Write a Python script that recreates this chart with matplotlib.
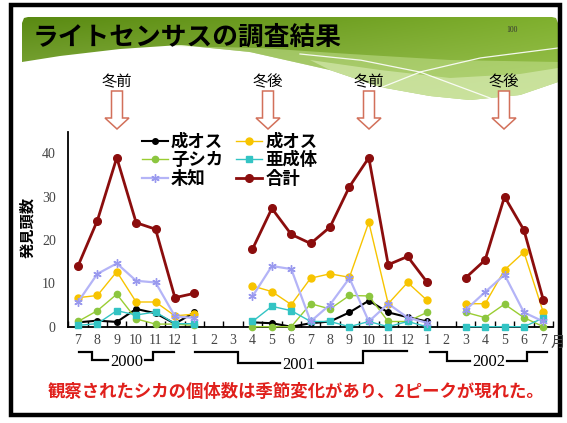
import numpy as np
import matplotlib
matplotlib.use("Agg")
import matplotlib.pyplot as plt
from matplotlib.patches import Polygon

plt.rcParams['font.family'] = ['Noto Sans CJK JP', 'DejaVu Sans']

# ---- data: monthly sightings, Jul 2000 .. Jul 2002 (nan = no survey) ----
nan = np.nan
month_labels = ['7', '8', '9', '10', '11', '12',
                '1', '2', '3', '4', '5', '6', '7', '8', '9', '10', '11', '12',
                '1', '2', '3', '4', '5', '6', '7']
adult_male = [1.0, 1.4, 1.1, 4.1, 3.1, 0.7, 3.3, nan, nan, 1.0, 0.8, 0.0, 0.8, 1.2,
              3.3, 6.0, 3.3, 2.2, 1.2, nan, nan, nan, nan, nan, nan]
adult_male2 = [6.7, 7.2, 12.7, 5.7, 5.7, 2.5, 2.9, nan, nan, 9.4, 8.1, 5.1, 11.2, 12.2,
               11.4, 24.1, 5.3, 10.2, 6.1, nan, 5.3, 5.3, 13.1, 17.2, 3.3]
fawn = [1.2, 3.7, 7.5, 1.8, 0.6, 0.6, 0.3, nan, nan, 0.0, 0.0, 0.0, 5.3, 4.1,
        7.2, 7.1, 1.2, 1.2, 3.3, nan, 3.3, 2.1, 5.2, 2.1, 0.0]
subadult = [0.3, 0.7, 3.7, 2.7, 3.4, 0.7, 0.7, nan, nan, 1.2, 4.7, 3.7, 1.2, 1.2,
            0.0, 1.2, 0.0, 1.2, 0.0, nan, 0.0, 0.0, 0.0, 0.0, 2.0]
unknown = [5.7, 12.2, 14.6, 10.6, 10.2, 2.4, 2.0, nan, nan, 7.0, 14.0, 13.3, 1.2, 5.1,
           11.2, 1.2, 5.3, 2.1, 0.9, nan, 3.9, 8.0, 12.0, 3.3, 1.2]
total = [14.0, 24.5, 39.0, 24.0, 22.5, 6.7, 7.7, nan, nan, 17.9, 27.3, 21.3, 19.2, 23.0,
         32.3, 39.0, 14.3, 16.2, 10.3, nan, 11.3, 15.4, 30.0, 22.3, 6.2]
series_names = ['成オス', '成オス', '子シカ', '亜成体', '未知', '合計']
y_ticks = [0, 10, 20, 30, 40]
season_labels = ['冬前', '冬後', '冬前', '冬後']
year_labels = ['2000', '2001', '2002']

W, H = 567, 423
fig = plt.figure(figsize=(W / 100, H / 100), dpi=100)
fig.patch.set_facecolor('white')

# full-figure layer in pixel coordinates for the slide decoration
bg = fig.add_axes([0, 0, 1, 1])
bg.set_xlim(0, W)
bg.set_ylim(H, 0)
bg.axis('off')

# slide frame
bg.add_patch(plt.Rectangle((11, 5), 549, 410, fill=False, ec='black', lw=3.2, zorder=5))


def smooth(pts, n=200):
    xs, ys = zip(*pts)
    xx = np.linspace(xs[0], xs[-1], n)
    return xx, np.interp(xx, xs, ys)


# green title banner: gradient image clipped to the wavy banner outline
gx = np.linspace(0, 1, 300)
gy = np.linspace(0, 1, 120)
GX, GY = np.meshgrid(gx, gy)
dark_l = np.array([0.35, 0.54, 0.07])
dark_r = np.array([0.50, 0.69, 0.18])
img = dark_l * (1 - GX[..., None]) + dark_r * GX[..., None]
img = img * (1 - 0.45 * GY[..., None]) + 0.45 * GY[..., None] * np.array([0.78, 0.88, 0.55])

lower_edge = [(22, 62), (60, 56), (120, 49), (180, 45), (250, 52), (330, 70),
              (380, 87), (430, 96), (470, 100), (520, 95), (558, 82)]
lx, ly = smooth(lower_edge)
top = 17
verts = [(22, top + 6), (24, top + 1), (28, top)]
verts += [(552, top), (556, top + 1), (558, top + 6)]
verts += list(zip(lx[::-1], ly[::-1]))
banner = Polygon(verts, closed=True, fc='none', ec='none')
bg.add_patch(banner)
im = bg.imshow(img, extent=(22, 558, 102, 17), aspect='auto', zorder=1)
im.set_clip_path(banner)

# lighter swooshes in the lower right part of the banner
light_top = [(170, 46), (260, 48), (350, 54), (450, 60), (558, 62)]
tx, ty = smooth(light_top)
lpoly_pts = list(zip(tx, ty)) + [p for p in zip(lx[::-1], ly[::-1]) if p[0] >= 170]
bg.add_patch(Polygon(lpoly_pts, closed=True, fc=(0.78, 0.89, 0.58), ec='none',
                     alpha=0.5, zorder=2))
mid_pts = [(310, 60), (380, 70), (450, 78), (520, 74), (558, 68)]
mx, my = smooth(mid_pts)
mid_poly = list(zip(mx, my)) + [(558, 82), (520, 95), (470, 100), (430, 96), (380, 87), (330, 70)]
bg.add_patch(Polygon(mid_poly, closed=True, fc=(0.86, 0.93, 0.72), ec='none',
                     alpha=0.6, zorder=2))

# two thin white streaks crossing the banner
for pts in ([(300, 54), (360, 60), (420, 72), (490, 98)],
            [(360, 96), (420, 72), (480, 58), (558, 48)]):
    sx, sy = smooth(pts)
    bg.plot(sx, sy, color='white', lw=0.9, alpha=0.9, zorder=3)

bg.text(33, 37, 'ライトセンサスの調査結果', fontsize=18.5, fontweight='bold',
        color='black', va='center', ha='left', zorder=4)
bg.text(511.5, 29.5, '100', fontsize=5.5, family='Liberation Serif',
        color='#333333', ha='center', va='center', zorder=4)

# season markers with hollow down arrows
season_x = [117.0, 268.0, 369.0, 504.0]
for sx, lab in zip(season_x, season_labels):
    bg.text(sx, 82, lab, fontsize=11, ha='center', va='center', color='black', zorder=4)
    sw, hw = 5.5, 12
    arrow = [(sx - sw, 91), (sx + sw, 91), (sx + sw, 118), (sx + hw, 118),
             (sx, 129), (sx - hw, 118), (sx - sw, 118)]
    bg.add_patch(Polygon(arrow, closed=True, fc='white', ec='#d2705a', lw=1.1, zorder=4))

# ---- chart ----
x0, x1, yb, yt = 68.3, 553.0, 326.7, 131.7
ax = fig.add_axes([x0 / W, 1 - yb / H, (x1 - x0) / W, (yb - yt) / H])
ax.patch.set_alpha(0)
x = np.arange(len(month_labels))

styles = [
    dict(color='black', lw=1.5, marker='o', ms=4, mfc='black', mec='black'),
    dict(color='#f7c400', lw=1.0, marker='o', ms=5, mfc='#f7c400', mec='#f7c400'),
    dict(color='#9acd32', lw=1.0, marker='o', ms=4.5, mfc='#8cc63f', mec='#8cc63f'),
    dict(color='#33c4c4', lw=1.0, marker='s', ms=4.2, mfc='#33c4c4', mec='#33c4c4'),
    dict(color='#b4b4f7', lw=1.6, marker=(6, 2, 0), ms=6, mfc='#9999ee', mec='#9999ee'),
    dict(color='#8b0d0d', lw=2.0, marker='o', ms=5.5, mfc='#8b0d0d', mec='#8b0d0d'),
]
series = [adult_male, adult_male2, fawn, subadult, unknown, total]
lines = []
for vals, name, st in zip(series, series_names, styles):
    ln, = ax.plot(x, vals, label=name, zorder=3, clip_on=False, **st)
    lines.append(ln)

ax.set_xlim(-0.5, len(month_labels) - 0.5)
ax.set_ylim(0, 45)
for s in ('top', 'right'):
    ax.spines[s].set_visible(False)
for s in ('left', 'bottom'):
    ax.spines[s].set_linewidth(1.3)
    ax.spines[s].set_color('black')

ax.set_yticks(y_ticks)
ax.set_yticklabels([str(v) for v in y_ticks], family='Liberation Serif',
                   fontsize=10, color='#444444')
ax.tick_params(axis='y', length=0, pad=9)
ax.set_xticks(x)
ax.set_xticklabels(month_labels, family='Liberation Serif', fontsize=10, color='#444444')
ax.tick_params(axis='x', which='major', length=0, pad=5)
ax.set_xticks(np.arange(-0.5, len(month_labels), 0.5), minor=True)
ax.tick_params(axis='x', which='minor', direction='in', length=4, width=1, color='black')
ax.text(len(month_labels) - 1 + 0.38, -0.085, '月', transform=ax.get_xaxis_transform(),
        fontsize=10.5, color='#444444', ha='left', va='center')

ax.set_ylabel('発見頭数', fontsize=11, fontweight='bold')
ax.yaxis.set_label_coords((35 - x0) / (x1 - x0), (yb - 227) / (yb - yt))

order = [0, 2, 4, 1, 3, 5]
leg = ax.legend([lines[i] for i in order], [series_names[i] for i in order],
                ncol=2, loc='upper left', bbox_to_anchor=(141.5, 133),
                bbox_transform=bg.transData, frameon=False, borderpad=0,
                borderaxespad=0, handlelength=1.5, handletextpad=0.2,
                columnspacing=0.75, labelspacing=0.02,
                prop=dict(size=12.5, weight='bold'))

# year brackets under the month labels
brackets = [
    ([(79, 352), (92, 352), (92, 360), (108, 360)], [(145, 360), (153, 360), (153, 352), (174, 352)], 126.5, 362.5),
    ([(195, 352.5), (238, 352.5), (238, 363.5), (280, 363.5)], [(318, 363.5), (363, 363.5), (363, 351), (407, 351)], 299, 365),
    ([(430, 352), (447, 352), (447, 361.5), (470, 361.5)], [(507, 361.5), (527, 361.5), (527, 352), (547, 352)], 488.5, 362),
]
for left, right, tx_, ty_ in brackets:
    for seg in (left, right):
        xs, ys = zip(*seg)
        bg.plot(xs, ys, color='black', lw=1.6, solid_joinstyle='miter', zorder=4)
for (left, right, tx_, ty_), lab in zip(brackets, year_labels):
    bg.text(tx_, ty_, lab, family='Liberation Serif', fontsize=12, ha='center',
            va='center', color='black', zorder=4)

bg.text(296, 392, '観察されたシカの個体数は季節変化があり、2ピークが現れた。',
        fontsize=12.5, fontweight='bold', color='#e0201c', ha='center', va='center', zorder=4)

fig.savefig('out.png', dpi=100, facecolor='white')
